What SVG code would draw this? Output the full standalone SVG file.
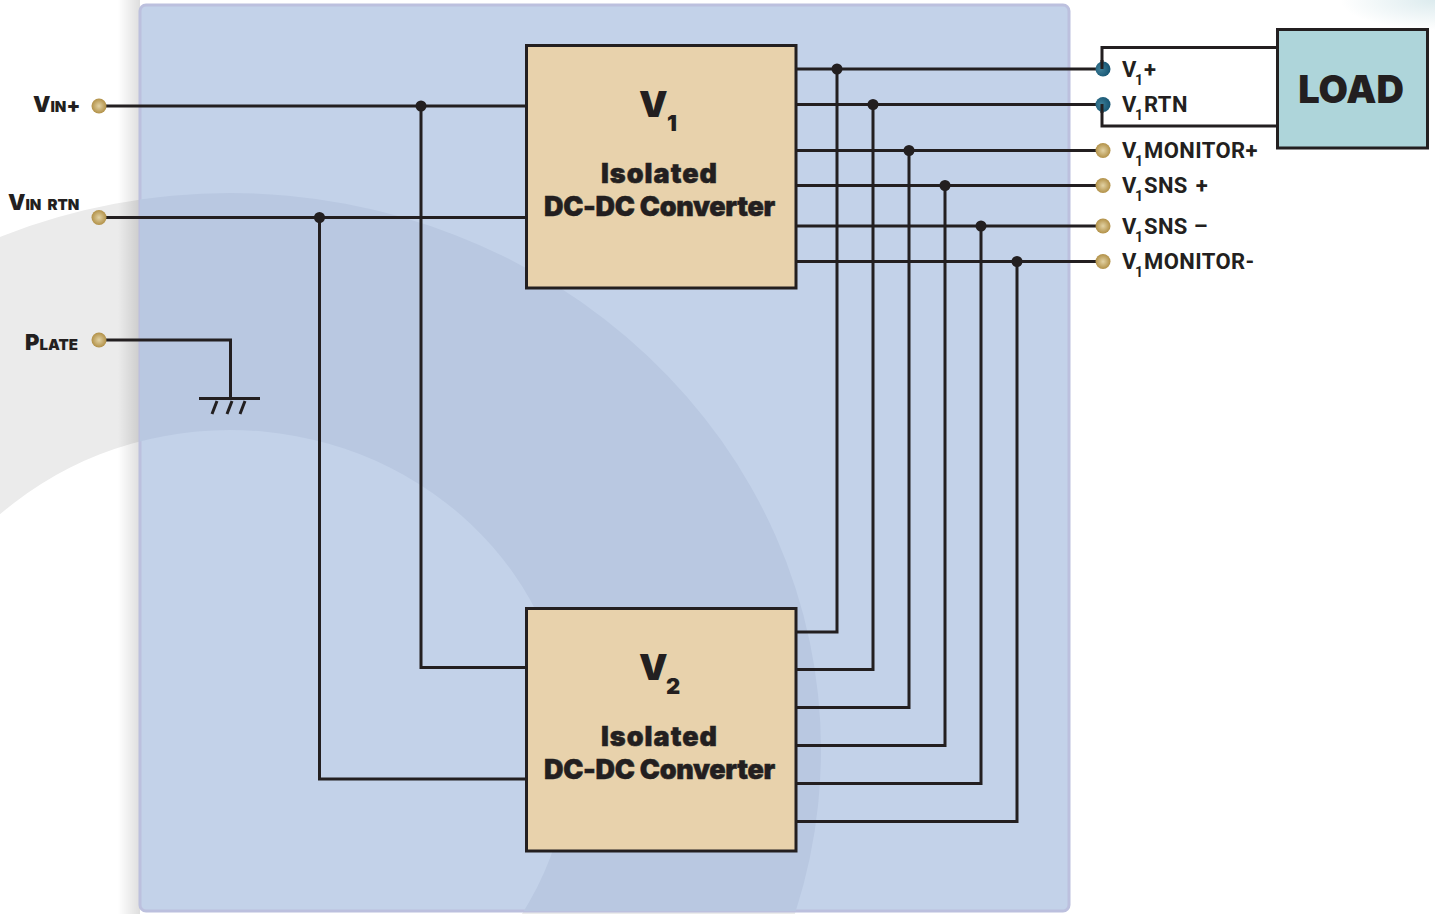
<svg xmlns="http://www.w3.org/2000/svg" width="1435" height="914" viewBox="0 0 1435 914">
<style>
.w{fill:none;stroke:#231f20;stroke-width:3}
.j{fill:#231f20}
.box{fill:#e8d2ac;stroke:#231f20;stroke-width:3}
text{font-family:"Inter","Liberation Sans",sans-serif;fill:#231f20}
.t{font-size:27px;font-weight:900;text-anchor:middle;font-family:"Inter",sans-serif;stroke:#231f20;stroke-width:.5}
.l{font-size:22px;font-weight:700;font-family:"Roboto",sans-serif;letter-spacing:.4px}
.s{font-size:14px;font-weight:700;font-family:"Roboto",sans-serif}
.e{font-weight:900;font-family:"Inter",sans-serif}
</style>
<defs>
<radialGradient id="gold" cx=".5" cy=".5" r=".55"><stop offset="0" stop-color="#e2d2a4"/><stop offset="1" stop-color="#ad8a3e"/></radialGradient>
<radialGradient id="teal" cx=".35" cy=".5" r=".7"><stop offset="0" stop-color="#3f7f98"/><stop offset="1" stop-color="#12506e"/></radialGradient>
<linearGradient id="sh" x1="0" x2="1" y1="0" y2="0"><stop offset="0" stop-color="#000" stop-opacity="0"/><stop offset="1" stop-color="#000" stop-opacity=".13"/></linearGradient>
<radialGradient id="tr" cx="1" cy="0" r="1"><stop offset="0" stop-color="#dcebee"/><stop offset="1" stop-color="#fff"/></radialGradient>
<clipPath id="panel"><rect x="140" y="5" width="929" height="906" rx="6"/></clipPath>
<path id="cres" fill-rule="evenodd" d="M-361 750a591 557 0 1 1 1182 0a591 557 0 1 1-1182 0ZM-110 750a340 320 0 1 0 680 0a340 320 0 1 0-680 0Z"/>
</defs>
<g id="background">
<rect width="1435" height="914" fill="#fff"/>
<rect x="1340" y="0" width="95" height="30" fill="url(#tr)"/>
<use href="#cres" fill="#ebebeb"/>
<rect x="118" y="0" width="22" height="914" fill="url(#sh)"/>
<rect x="140" y="5" width="929" height="906" rx="6" fill="#c3d2e9" stroke="#bcc0de" stroke-width="3"/>
<use href="#cres" fill="#b9c8e1" clip-path="url(#panel)"/>
</g>
<g id="connectors">
<path class="w" d="M106 106H526M106 217.500H526M421 106V667.500H526M319.500 217.500V779H526M106 340H230.500V398M199 398.500H260M217 401L212 414M232 401L227 414M245 401L240 414"/>
<path class="w" d="M796 69H1103M796 104.500H1103M796 150.500H1103M796 185.500H1103M796 226H1103M796 261.500H1103"/>
<path class="w" d="M837 69V632H796M873 104.500V669.500H796M909 150.500V707.500H796M945 185.500V745.500H796M981 226V783.500H796M1017 261.500V821.500H796"/>
<path class="w" d="M1277 47.500H1102V69M1277 126H1102V104.500"/>
<g class="j"><circle cx="421" cy="106" r="5.500"/><circle cx="319.500" cy="217.500" r="5.500"/><circle cx="837" cy="69" r="5.500"/><circle cx="873" cy="104.500" r="5.500"/><circle cx="909" cy="150.500" r="5.500"/><circle cx="945" cy="185.500" r="5.500"/><circle cx="981" cy="226" r="5.500"/><circle cx="1017" cy="261.500" r="5.500"/></g>
</g>
<g id="v1"><rect class="box" x="526.500" y="45.500" width="269.500" height="242.500"/>
<text class="e" x="639" y="117" font-size="36">V</text><text class="e" x="667" y="131" font-size="22">1</text>
<text class="t" x="659.500" y="183" letter-spacing="1">Isolated</text><text class="t" x="659.500" y="216" letter-spacing="-.3">DC-DC Converter</text></g>
<g id="v2"><rect class="box" x="526.500" y="608.500" width="269.500" height="242.500"/>
<text class="e" x="639" y="680" font-size="36">V</text><text class="e" x="666" y="694" font-size="22">2</text>
<text class="t" x="659.500" y="746" letter-spacing="1">Isolated</text><text class="t" x="659.500" y="779" letter-spacing="-.3">DC-DC Converter</text></g>
<g id="load"><rect x="1277.500" y="29.500" width="150" height="118.500" fill="#aed5da" stroke="#231f20" stroke-width="3"/>
<text class="e" x="1351" y="103" font-size="38" text-anchor="middle">LOAD</text></g>
<g id="vin-plus"><circle cx="99" cy="106" r="7.500" fill="url(#gold)"/><text class="e" x="33" y="112"><tspan font-size="22">V</tspan><tspan font-size="15">IN</tspan><tspan font-size="20">+</tspan></text></g>
<g id="vin-rtn"><circle cx="99" cy="217.500" r="7.500" fill="url(#gold)"/><text class="e" x="8" y="210" word-spacing="3"><tspan font-size="22">V</tspan><tspan font-size="15">IN</tspan><tspan font-size="15"> RTN</tspan></text></g>
<g id="plate"><circle cx="99" cy="340" r="7.500" fill="url(#gold)"/><text class="e" x="25" y="350"><tspan font-size="22">P</tspan><tspan font-size="15">LATE</tspan></text></g>
<g id="v1-plus"><circle cx="1103" cy="69" r="7.500" fill="url(#teal)"/><path class="w" d="M1102 60V69"/><text class="l" x="1122" y="77">V</text><text class="s" x="1135" y="85">1</text><text class="l" x="1144" y="77">+</text></g>
<g id="v1-rtn"><circle cx="1103" cy="104.500" r="7.500" fill="url(#teal)"/><path class="w" d="M1102 104V113"/><text class="l" x="1122" y="112">V</text><text class="s" x="1135" y="120">1</text><text class="l" x="1144" y="112">RTN</text></g>
<g id="v1-mon-plus"><circle cx="1103" cy="150.500" r="7.500" fill="url(#gold)"/><text class="l" x="1122" y="158">V</text><text class="s" x="1135" y="166">1</text><text class="l" x="1144" y="158">MONITOR+</text></g>
<g id="v1-sns-plus"><circle cx="1103" cy="185.500" r="7.500" fill="url(#gold)"/><text class="l" x="1122" y="193">V</text><text class="s" x="1135" y="201">1</text><text class="l" x="1144" y="193" word-spacing="2">SNS +</text></g>
<g id="v1-sns-minus"><circle cx="1103" cy="226" r="7.500" fill="url(#gold)"/><text class="l" x="1122" y="234">V</text><text class="s" x="1135" y="242">1</text><text class="l" x="1144" y="234">SNS –</text></g>
<g id="v1-mon-minus"><circle cx="1103" cy="261.500" r="7.500" fill="url(#gold)"/><text class="l" x="1122" y="269">V</text><text class="s" x="1135" y="277">1</text><text class="l" x="1144" y="269">MONITOR-</text></g>
</svg>
